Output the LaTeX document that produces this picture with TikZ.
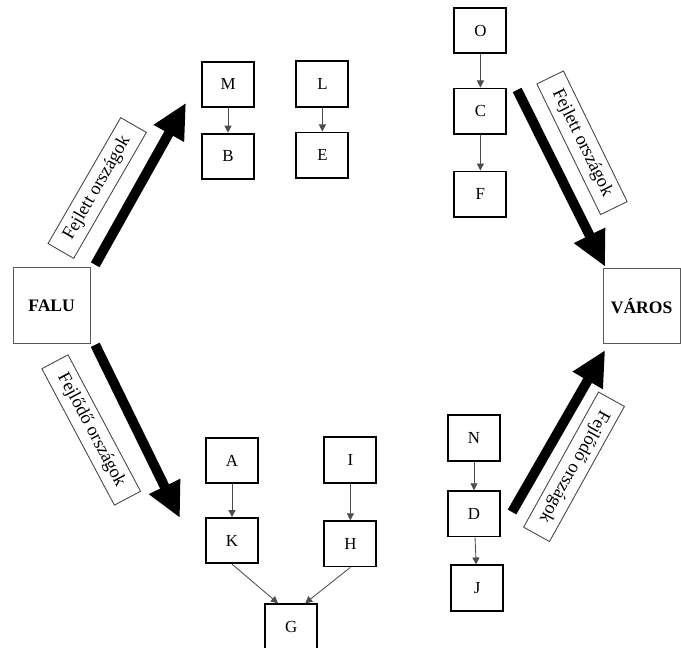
\documentclass[tikz,border=0pt]{standalone}
\usepackage{fontspec}
\setmainfont{Liberation Serif}
\usetikzlibrary{positioning, arrows.meta}

\begin{document}
\begin{tikzpicture}[
    >=Triangle,
    box/.style={rectangle, draw, line width=1.3pt, minimum width=1.3cm, minimum height=1.13cm, inner sep=0pt, font=\fontsize{12}{14}\selectfont},
    place/.style={rectangle, draw=black!65, line width=0.7pt, minimum width=1.93cm, minimum height=1.88cm, inner sep=0pt, font=\fontsize{12.5}{15}\selectfont\bfseries},
    tag/.style={rectangle, draw=black!75, line width=0.6pt, minimum height=0.74cm, inner xsep=10pt, inner ysep=0pt, font=\fontsize{13}{15}\selectfont},
    flow/.style={-{Triangle[length=25pt, width=23pt]}, line width=7pt},
    link/.style={-{Triangle[length=5pt, width=5pt]}, draw=black!70, line width=0.6pt}
]
    \useasboundingbox (0,0) rectangle (17.025,16.2);

    % --- Falu es varos ---
    \node[place] (falu) at (1.29, 8.56) {FALU};
    \node[place] (varos) at (16.04, 8.54) {VÁROS};

    % --- Fent balra ---
    \node[box] (m) at (5.70, 14.09) {M};
    \node[box, below=0.62cm of m] (b) {B};
    \node[box] (l) at (8.06, 14.10) {L};
    \node[box, below=0.6cm of l] (e) {E};

    \draw[link] (m) -- (b);
    \draw[link] (l) -- (e);

    % --- Fent jobbra ---
    \node[box] (o) at (12.01, 15.43) {O};
    \node[box, below=0.83cm of o] (c) {C};
    \node[box, below=0.9cm of c] (f) {F};

    \draw[link] (o) -- (c);
    \draw[link] (c) -- (f);

    % --- Lent balra ---
    \node[box] (a) at (5.80, 4.68) {A};
    \node[box, below=0.82cm of a] (k) {K};
    \node[box] (i) at (8.76, 4.70) {I};
    \node[box, below=0.92cm of i] (h) {H};
    \node[box] (g) at (7.28, 0.53) {G};

    \draw[link] (a) -- (k);
    \draw[link] (i) -- (h);
    \draw[link] (k.south) -- ([xshift=-0.33cm]g.north);
    \draw[link] (h.south) -- ([xshift=0.35cm]g.north);

    % --- Lent jobbra ---
    \node[box] (n) at (11.85, 5.25) {N};
    \node[box, below=0.72cm of n] (d) {D};
    \node[box] (j) at (11.93, 1.50) {J};

    \draw[link] (n) -- (d);
    \draw[link] (d) -- (j);

    % --- Vastag nyilak ---
    \coordinate (falu_fel) at (2.38, 9.58);
    \coordinate (falu_le) at (2.38, 7.58);
    \coordinate (cel_fel) at (4.65, 13.63);
    \coordinate (cel_le) at (4.50, 3.25);
    \coordinate (c_ki) at (12.93, 13.95);
    \coordinate (d_ki) at (12.80, 3.40);
    \coordinate (varos_fent) at (15.13, 9.53);
    \coordinate (varos_lent) at (15.13, 7.45);

    \draw[flow] (falu_fel) -- (cel_fel);
    \draw[flow] (falu_le) -- (cel_le);
    \draw[flow] (c_ki) -- (varos_fent);
    \draw[flow] (d_ki) -- (varos_lent);

    % --- Feliratok ---
    \node[tag, rotate=60] (fejlett_bal) at (2.43, 11.50) {Fejlett országok};
    \node[tag, rotate=-64] (fejlett_jobb) at (14.55, 12.63) {Fejlett országok};
    \node[tag, rotate=-62] (fejlodo_bal) at (2.28, 5.45) {Fejlődő országok};
    \node[tag, rotate=241] (fejlodo_jobb) at (14.35, 4.53) {Fejlődő országok};

\end{tikzpicture}
\end{document}
